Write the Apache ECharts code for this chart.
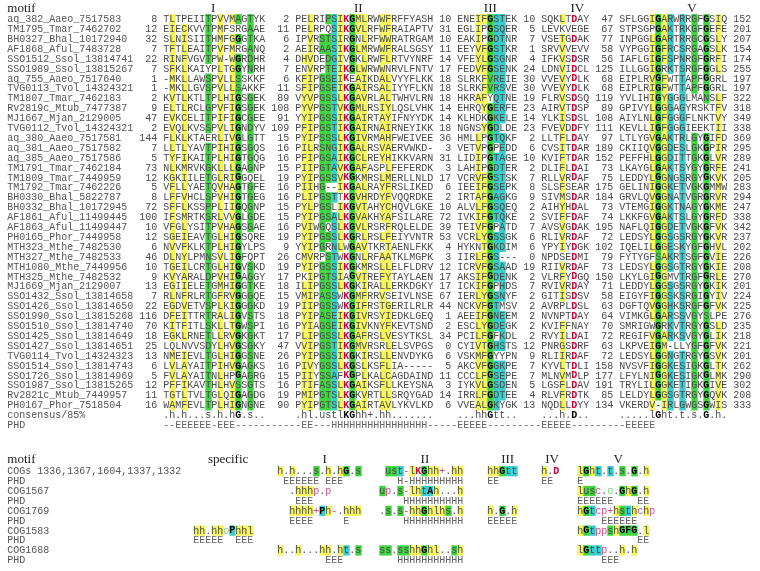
<!DOCTYPE html>
<html>
<head>
<meta charset="utf-8">
<script src="https://cdn.jsdelivr.net/npm/echarts@6/dist/echarts.min.js"></script>
<style>
  html, body { margin: 0; padding: 0; background: #fff; }
  #chart { width: 760px; height: 571px; }
</style>
</head>
<body>
<div id="chart"></div>
<script>
// ---- alignment data ----
const seqNames = ['aq_382_Aaeo_7517583','TM1795_Tmar_7462702','BH0327_Bhal_10172940','AF1868_Aful_7483728','SSO1512_Ssol_13814741','SSO1989_Ssol_13815267','aq_755_Aaeo_7517640','TVG0113_Tvol_14324321','TM1807_Tmar_7462183','Rv2819c_Mtub_7477387','MJ1667_Mjan_2129005','TVG0112_Tvol_14324321','aq_380_Aaeo_7517581','aq_381_Aaeo_7517582','aq_385_Aaeo_7517586','TM1791_Tmar_7462184','TM1809_Tmar_7449959','TM1792_Tmar_7462226','BH0330_Bhal_5822787','BH0332_Bhal_10172945','AF1861_Aful_11499445','AF1863_Aful_11499447','PH0165_Phor_7449958','MTH323_Mthe_7482530','MTH327_Mthe_7482533','MTH1080_Mthe_7449956','MTH325_Mthe_7482532','MJ1669_Mjan_2129007','SSO1432_Ssol_13814658','SSO1426_Ssol_13814650','SSO1990_Ssol_13815268','SSO1510_Ssol_13814740','SSO1425_Ssol_13814649','SSO1427_Ssol_13814651','TVG0114_Tvol_14324323','SSO1514_Ssol_13814743','SSO1726_Ssol_13814969','SSO1987_Ssol_13815265','Rv2821c_Mtub_7449957','PH0167_Phor_7518504'];

const gapI = [8,12,32,7,22,7,1,1,2,9,47,2,144,7,5,73,12,5,8,72,100,10,12,6,46,10,9,13,7,22,116,70,18,25,13,6,5,12,11,16];
const motifI = ['TLTPEIITPVVMAGTYK','EIECKVVTPMFSRGAAE','SLNISIITHMFGGGTKA','TFTLEAITPVFMRGANQ','RINFVGVTPW-WGRDHR','SFKLKAIYPLTGGYNRH','-MKLLAWSPVLLSSKKF','-MKLLGVSPVLLSAKKF','KVTLKTLTPLHIGSGEK','ELTLRCLGPVFIGSGEK','EVKCELITPIFIGCGEE','EVQLKVSSPVLIGNDYV','FLKLKTAERLIVGLGTT','LLTLYAVTPIHIGSGQS','TYFIKAITPLHIGTGQG','NLKMRVKGKLLLGAGNP','KGKIILETGLRIGGQEL','VFLLYAETQVHAGTGFE','LFFVHCLSPVHIGTGEG','SFFLKSSPPLIIGQGNP','IFSMRTKSRLVVGLGDE','VFGLYSITPVHAGSGAE','SGEIEAVTGLHIGSQRE','NVVFKLKTPLHIGYLPS','DLNYLPMNSVLIGFQPT','TGEILCRTGLHIGVSKD','KVYARALDPVHIGAGGY','EGIIELETGMHIGGTKE','RLNFRLRTGFRVGGGQE','EGDVETVSPLKIGGGKD','DFEITTRTRALIGVSTS','KITFITLSKLLTGWSPI','EGKLRNETLLRVGKGKT','LQLNVVSDYLHVGSGKY','NMEIEVLTGLHIGGSNE','LVLAYAITPIHVGAGKS','FVLAYAITNLHPGAGRG','PFFIKAVTHLHVSSGTS','TGTLTVLTGLQIGAGDG','WAMFEVLTPLHIGNGNE'];

const gapII = [2,11,6,2,4,7,6,11,89,108,91,109,15,16,16,15,19,16,16,15,15,16,19,9,26,19,17,18,15,19,18,16,17,47,26,16,15,16,19,90];
const motifII = ['PELRIPSIKGMLRWWFRFFYASH','PELRPQSIKGVLRFWFRAIAPTV','IPVRSTSIRGNLRFWWRATRGAM','AEIRAASIKGLMRWWFRALSGSY','DHVDEDGIVGKLRWFLRTVYNRF','ENVRPTEIKGLWRWWNRVLFNTV','KFIPGSEIKEAIKDALVYYFLKK','SFIPGSEIKGAIRSALIYYFLKN','VYVPGSSLKGAVRLALTWHVLRN','PYVPGSTVKGMLRSIYLQSLVHK','YYIPGSSIKGAIRTAYIFNYYDK','PFIPGSTIKGAIRNAIRNEYIKK','PYIPSSSLKGIVRMAHFWEIVEE','PILRSNGIKGALRSVAERVWKD-','PFIPGSAIKGCLREYHIKKVARN','PIIPGTAVKGAFASPLFEFERDK','PYIPGSSVKGKMRSLMERLLNLD','PIIHG--IKGALRAYFRSLIKED','PLIPGSTTKGVHRDYFVQQRDKE','PYLPGSLIKGVTAHYCHQVLGKE','PYIPGSALKGVAKHYAFSILARE','PVIWGQSLKGVLRSRFRQLELDE','PYIPGSSLKGRLRSLFEIYVNTR','YYIPGRNLWGAVTKRTAENLFKK','CMVRPSTWKGNLRFAATKLMGPK','PYIPGSSIKGKMRSLLELFLDRV','PKIPGTSIAGVTREFYTAYLAEN','ILIPGSSLKGKIRALLERKDGKY','VMIPASSWKGMFRRVSEIVLNSE','PIIPGSSWKGIFRSTGERILRLR','PYIPASEIKGIVRSYIEDKLGEQ','PYIAGSEIKGIVKNYFKEVTSND','PLIPGSSLKGAFRSLVESYTKSL','VVIPGSTIKGMVRSRLELSVPGS','PYIPGSSIKGKIRSLLENVDYKG','PIVYGSSLKGSLKSFLIA-----','PIIYSSAFKGPLKALCAGDAIND','PTIFASSLKGAIKSFLLKEYSNA','PMIPGTSLKGKVRTLLSRQYGAD','PYIPGTSLKGAIRTAVLYKVLKD'];

const gapIII = [10,31,10,11,14,17,18,18,18,14,14,18,36,3,31,3,17,6,2,10,72,39,53,4,3,12,17,17,67,44,1,2,34,0,6,5,11,3,14,6];
const motifIII = ['ENEIFGSTEK','EGLIPGSQER','EAKIPGDTNR','EEYVFGSTKR','VFEYLGSGNR','FEDVFGSENK','SLRKFVREIE','SLRKFVRSVE','HKRAFYQTNE','EHRQYGERFE','KLHDKGKELE','NGNSYGDLDE','HMLLPGTQKF','VETVPGPEDD','LIDIPGTAGE','LAHIPGDTER','VCRVFGSTSK','IEEIFGSEPK','IRTAFGAGKG','ALVLFGSQEQ','IVKIFGTQKE','TEIVFGPATD','VCRLYGSSGK','HYKNTGKDIM','IIRLFGS---','ICRVFGSAAD','AKSIFGDENK','ICKIFGPHDS','IERLYGSNYF','NCKVFGTMSV','AEEIFGNEEM','ESCLYGDEGK','PCILFGFKDL','CYIVTGHSTS','VSKMFGYYPN','AKCVFGGKPE','CCCLFGSEPE','IYKVLGSDEN','IRRLFGDTEE','VVEALGKYGK'];

const gapIV = [10,5,7,1,4,24,30,30,19,23,14,23,2,6,10,2,7,8,9,2,2,7,6,6,0,19,2,7,2,2,2,2,2,12,9,7,7,5,4,13];
const motifIV = ['SQKLTDAY','LEVKVEGE','VSETGDAK','SRVVVEVV','IFKVSDSR','LDNVIDCL','VVEVYDLK','VVEVYDLK','FLRVSDSQ','AIRVTDSP','YLKISDSL','FVEVDDFY','LLTFLDAY','CVSITDAR','KVIFTDAR','DLIFLDAI','RLLVRDAF','SLSFSEAR','SIVMSDAR','AIHYHDAL','SVIFFDAF','AVSVGDAK','RLIVRDAF','YPYIYDGK','NPDSEDMI','RIIVRDAF','VLRFYDGQ','RVIVRDAY','GITISDSV','AVRPLDSL','NVNPTDAY','KVIFFNAY','RVYILDAI','PNRGSDRF','RLIIRDAF','KYVLTDLI','MLNVMDLP','LGSFLDAV','RLVFRDTK','NQDLLDYY'];

const gapV = [47,67,77,58,56,125,68,68,119,89,108,111,97,189,152,73,75,175,184,73,74,195,72,102,79,73,150,71,58,63,64,70,72,63,72,158,177,191,85,134];
const motifV = ['SFLGGIGARWRRGFGSIQ','STPSGPGAKTRKGFGEFE','INPGGLGARTRRGCGSLY','VYPGGIGFRCSRGAGSLK','IAFLGIGFSPNRGFGRFI','ILLGGIGRKTSRGFGGLS','EIPLRVGFWTTAPFGGRL','EIPLRIGFWTTAPFGGRL','YVLIHIGYGGGLMANSLF','GPIVYLGGGAGYRSKTFV','AIYLNLGFGGGFLNKTVY','KEVLLIGFGGGIEEKTII','LTLYGVGAKTRLGYGIFD','CKIIQVGGDESLGKGPIR','PEFFHLGGDITTGKGLVR','LKAYGLGAKTSYGYGRFE','LEDDYLGGNGSRGYGKVK','GELINIGGKETVGKGMMW','GRVLQVGGNATVGRGRVR','VTEMGIGGKTNAGYGKME','LKKFGVGAKTSLGYGRFD','NAFLQIGGDETVGKGFVK','LEDSYLGGSGSRGYGKVR','IQELILGGESKYGFGHVL','FYTYGFSAKRTSGFGVIE','LEDSYLGGSGTRGYGKIE','LKYLGIGGMVTRGFGRLE','LEDDYLGGSGSRGYGKIK','EIGYFIGGSKSRGIGYIV','DGFTQVGGHKSRGFGFVK','VIMKGLGARSSVGYSLPE','SMRIGWGRKVTRGYGSLD','REGIFVGARKSVGYGLIK','LKPVEIGM-LLYGFGFVK','LEDSYLGGNGTRGYGSVK','NVSVFIGGKESIGKGLTK','LFYLNIGGKESIGKGLMK','TRYLILGGKETIGKGIVE','LELDYLGGSGTRGYGQVK','VKERDV-IRLGWGSGWIS'];

const seqEnd = [152,201,207,154,174,255,197,197,322,318,349,338,369,295,289,241,205,283,294,247,338,342,237,202,226,208,270,201,224,225,276,235,218,221,201,262,290,302,208,333];

const consensus = ['.h.h...s.h.hG.s..', '.hl.ustlKGhh+.hh.......', '...hhGtt..', '...h.D..', '.....lGht.t.s.G.h.'];
const phdTop = '--EEEEEE-EEE-----------EE---HHHHHHHHHHHHHHHH-----EEEEE---------EEEEE---------EEEEE';
const motifLabels = ['I', 'II', 'III', 'IV', 'V'];

// lower panel: COG consensus patterns (leading spaces = offset inside the block)
const cogNames = ['COGs 1336,1367,1604,1337,1332','PHD','COG1567','PHD','COG1769','PHD','COG1583','PHD','COG1688','PHD'];
const cogSpecific = ['', '', '', '', '', '', 'hh.hhoPhhl', 'EEEEE  EEE', '', ''];
const cogI   = ['h.h...s.h.hG.s', ' EEEEEE EEE', '  .hhhp.p', '   EEE', '  hhhh+Ph-.hhh', '  EEEE     E', '', '', 'h..h...hh.ht.s', '        EEE'];
const cogII  = [' ust-lKGhh+.hh', '   H-HHHHHHHHH', 'up.s-lhtAh...h', '    HHHHHHHHHH', '.s.s-hhGhlhs.h', '    HHHHHHHHHH', '', '', 'ss.sshhGhl..sh', '   HHHHHHHHHHH'];
const cogIII = ['hhGtt', 'EE', '', '', 'h.G.h', 'EEEEE', '', '', '', ''];
const cogIV  = ['h.D', 'EE', '', '', '', '', '', '', '', ''];
const cogV   = ['lGht.t.s.G.h', 'E', 'lusc.o.GhG.h', 'EEEEEE    EE', 'hGtcp+hsthchp', '    EEEEEE', 'hGtppshGFG.l', '          EE', 'lGttp..h.h', '    EEE'];

// ---- layout / styling ----
const MONO = '10px "Liberation Mono", monospace';
const MONO_B = 'bold 10px "Liberation Mono", monospace';
const SERIF = '13px "Liberation Serif", serif';
const INK = '#4a4a4a', NAME_INK = '#555555';
const YELLOW = '#f6f65e', GREEN = '#3fd43f', CYAN = '#38cccc', RED = '#d0003a', MAGENTA = '#d04a86';
const CLS = { h:'ACFGHILMTVWY', l:'ILV', a:'FHWY', s:'ACDGNPSTV', u:'AGS', t:'ACDEGHKNQRST',
              p:'CDEHKNQRST', c:'DEHKR', '+':'HKR', '-':'DE', o:'ST', b:'EFHIKLMQRWY' };

const blockCol = [26, 48, 75, 89, 102];
const gapEnd = [24, 46, 73, 87, 100];
const endCol = 123;
const headerCol = [34.3, 58.5, 80.5, 95.0, 114.1];
const lowBlockCol = [31, 45, 62, 80, 89, 95];
const lowHeaderCol = [52.9, 69.6, 83.4, 90.8, 101.8];
const LOW_HDR = 45.55, LOW_ROW0 = 46.66;

const cells = [];
function put(col, line, ch, st) {
  if (ch === ' ') return;
  st = st || {};
  cells.push({ x: col + 0.5, y: line, ch: ch, bg: st.bg, fg: st.fg, bold: st.bold });
}
function putText(col, line, s, st) {
  for (let i = 0; i < s.length; i++) put(col + i, line, s[i], st);
}
function putNum(endC, line, n) {
  const s = String(n);
  putText(endC - s.length + 1, line, s, { fg: INK });
}

function upperStyle(sym, r) {
  if (r === '-') return {};
  if (/[A-Z]/.test(sym)) {
    if (sym === 'K' || sym === 'D') return r === sym ? { fg: RED, bold: true } : {};
    if (r === sym) return { bg: GREEN, bold: true, fg: '#000' };
    return CLS.s.indexOf(r) >= 0 ? { bg: GREEN } : {};
  }
  const set = CLS[sym];
  if (!set || set.indexOf(r) < 0) return {};
  if ('hlab'.indexOf(sym) >= 0) return { bg: YELLOW };
  if ('su'.indexOf(sym) >= 0) return { bg: GREEN };
  if (sym === 't') return { bg: CYAN };
  return {};
}

function lowerStyle(ch) {
  if ('hlab'.indexOf(ch) >= 0) return { bg: YELLOW };
  if ('su'.indexOf(ch) >= 0) return { bg: GREEN };
  if (ch === 't') return { bg: CYAN };
  if ('pc+-'.indexOf(ch) >= 0) return { fg: MAGENTA };
  if (ch === 'o') return { fg: '#7ccf7c' };
  if (ch === 'K' || ch === 'D') return { fg: RED, bold: true };
  if (ch === 'G' || ch === 'F') return { bg: GREEN, bold: true, fg: '#000' };
  if (ch === 'P' || ch === 'A') return { bg: CYAN, bold: true, fg: '#000' };
  if (/[A-Z]/.test(ch)) return { bold: true, fg: '#000' };
  return {};
}

const headers = [];
// upper alignment
headers.push({ x: 0, y: -0.1, text: 'motif', align: 'left' });
motifLabels.forEach((m, k) => headers.push({ x: headerCol[k], y: -0.1, text: m, align: 'center' }));

const motifs = [motifI, motifII, motifIII, motifIV, motifV];
const gaps = [gapI, gapII, gapIII, gapIV, gapV];
seqNames.forEach((name, i) => {
  const line = i + 1;
  putText(0, line, name, { fg: NAME_INK });
  for (let b = 0; b < 5; b++) {
    putNum(gapEnd[b], line, gaps[b][i]);
    const seq = motifs[b][i];
    for (let j = 0; j < seq.length; j++) put(blockCol[b] + j, line, seq[j], upperStyle(consensus[b][j], seq[j]));
  }
  putNum(endCol, line, seqEnd[i]);
});
const consLine = seqNames.length + 1;
putText(0, consLine, 'consensus/85%', { fg: NAME_INK });
consensus.forEach((c, b) => {
  for (let j = 0; j < c.length; j++) put(blockCol[b] + j, consLine, c[j], /[A-Z]/.test(c[j]) ? { bold: true, fg: '#000' } : {});
});
putText(0, consLine + 1, 'PHD', { fg: NAME_INK });
putText(blockCol[0], consLine + 1, phdTop, { fg: '#666' });

// lower panel
headers.push({ x: 0, y: LOW_HDR, text: 'motif', align: 'left' });
headers.push({ x: 36.8, y: LOW_HDR, text: 'specific', align: 'center' });
motifLabels.forEach((m, k) => headers.push({ x: lowHeaderCol[k], y: LOW_HDR, text: m, align: 'center' }));
const lowBlocks = [cogSpecific, cogI, cogII, cogIII, cogIV, cogV];
cogNames.forEach((name, k) => {
  const line = LOW_ROW0 + k;
  const isPhd = name === 'PHD';
  putText(0, line, name, { fg: NAME_INK });
  lowBlocks.forEach((blk, b) => {
    const s = blk[k];
    for (let j = 0; j < s.length; j++) put(lowBlockCol[b] + j, line, s[j], isPhd ? { fg: '#666' } : lowerStyle(s[j]));
  });
});

function renderCell(params, api) {
  const d = cells[params.dataIndex];
  const p = api.coord([d.x, d.y]);
  const sz = api.size([1, 1]);
  const kids = [];
  if (d.bg) {
    kids.push({ type: 'rect', shape: { x: p[0] - sz[0] / 2, y: p[1] - sz[1] / 2, width: sz[0] + 0.4, height: sz[1] + 0.4 },
                style: { fill: d.bg } });
  }
  kids.push({ type: 'text', style: { text: d.ch, x: p[0], y: p[1] + 0.5, textAlign: 'center', textVerticalAlign: 'middle',
              align: 'center', verticalAlign: 'middle', font: d.bold ? MONO_B : MONO, fill: d.fg || INK } });
  return { type: 'group', children: kids };
}
function renderHeader(params, api) {
  const h = headers[params.dataIndex];
  const p = api.coord([h.x, h.y]);
  return { type: 'text', style: { text: h.text, x: p[0], y: p[1], textAlign: h.align, textVerticalAlign: 'middle',
           align: h.align, verticalAlign: 'middle', font: SERIF, fill: '#222' } };
}

const myChart = echarts.init(document.getElementById('chart'));
myChart.setOption({
  animation: false,
  grid: { left: 7.3, top: 0, width: 744, height: 571 },
  xAxis: { type: 'value', min: 0, max: 124, show: false },
  yAxis: { type: 'value', min: -0.92, max: 56.76, inverse: true, show: false },
  series: [
    { type: 'custom', silent: true, clip: false, renderItem: renderCell,
      progressive: 0, progressiveThreshold: 1e6, large: false,
      data: cells.map(d => [d.x, d.y]), encode: { x: 0, y: 1 } },
    { type: 'custom', silent: true, clip: false, renderItem: renderHeader,
      progressive: 0,
      data: headers.map(h => [h.x, h.y]), encode: { x: 0, y: 1 } }
  ]
});
</script>
</body>
</html>
